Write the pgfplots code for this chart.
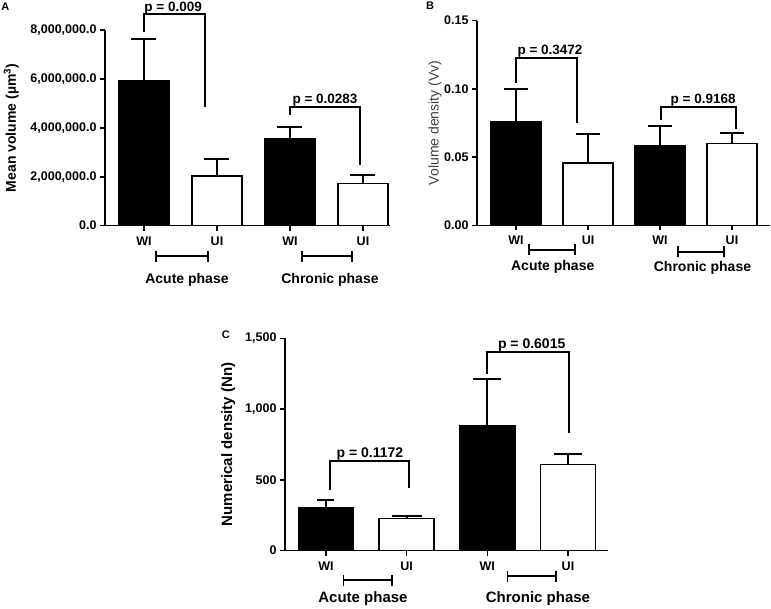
\documentclass[border=0pt]{standalone}
\usepackage{pgfplots}
\pgfplotsset{compat=1.18}
\usepackage{fontspec}
\setmainfont{Liberation Sans}
\usetikzlibrary{arrows.meta}

\pgfplotsset{
  panel/.style={
    scale only axis,
    axis x line*=bottom, axis y line*=left,
    axis line style={line width=1.5pt},
    tick style={line width=1.5pt, black},
    tick align=outside,
    major tick length=5pt,
    xtick={0,1,2,3},
    tick label style={font=\bfseries\fontsize{12.5}{14}\selectfont},
    xticklabel style={yshift=-2.5pt},
    clip=false,
    ylabel style={font=\bfseries\fontsize{14}{16}\selectfont, anchor=center},
  },
  wibar/.style={ybar, bar shift=0pt, fill=black, draw=black, line width=1.5pt,
    error bars/y dir=plus, error bars/y explicit,
    error bars/error bar style={line width=2pt, black},
    error bars/error mark options={rotate=90, line width=2pt, black, mark size=#1}},
  wibar/.default=12.5pt,
  uibar/.style={ybar, bar shift=0pt, fill=white, draw=black, line width=1.5pt,
    error bars/y dir=plus, error bars/y explicit,
    error bars/error bar style={line width=2pt, black},
    error bars/error mark options={rotate=90, line width=2pt, black, mark size=#1}},
  uibar/.default=12.5pt,
  bracket/.style={black, line width=2pt, mark=none, sharp plot, line join=miter},
}
\tikzset{
  ptext/.style={font=\bfseries\fontsize{13.5}{15}\selectfont, anchor=base, yshift=3pt, inner sep=0pt},
  phase/.style={line width=1.8pt, {Bar[width=11pt]}-{Bar[width=11pt]}},
  phlabel/.style={font=\bfseries\fontsize{14}{16}\selectfont, inner sep=0pt},
  letter/.style={font=\bfseries\fontsize{11}{12}\selectfont, inner sep=0pt},
}

\begin{document}
\begin{tikzpicture}
\useasboundingbox (0,0) rectangle (771pt,609pt);

% ---------------- Panel A ----------------
\begin{axis}[panel,
  at={(105pt,383.3pt)}, anchor=south west,
  width=285pt, height=195.7pt,
  xmin=-0.534, xmax=3.37, ymin=0, ymax=8e6,
  bar width=50pt,
  xticklabels={WI,UI,WI,UI},
  ytick={0,2e6,4e6,6e6,8e6},
  yticklabels={0.0,{2,000,000.0},{4,000,000.0},{6,000,000.0},{8,000,000.0}},
  scaled y ticks=false,
  ylabel={Mean volume (µm\textsuperscript{3})},
  ylabel style={at={(axis description cs:-0.329,0.5)}},
]
\addplot[wibar] coordinates {(0,5.92e6) +- (0,1.70e6) (2,3.54e6) +- (0,0.51e6)};
\addplot[uibar] coordinates {(1,2.03e6) +- (0,0.70e6) (3,1.73e6) +- (0,0.34e6)};
\addplot[bracket] coordinates {(0,7.93e6) (0,8.65e6) (0.836,8.65e6) (0.836,4.86e6)};
\addplot[bracket] coordinates {(2,4.53e6) (2,4.86e6) (2.96,4.86e6) (2.96,2.48e6)};
\node[ptext] at (axis cs:0.40,8.65e6) {p = 0.009};
\node[ptext] at (axis cs:2.48,4.86e6) {p = 0.0283};
\draw[phase] (axis cs:0.151,-1.24e6) -- (axis cs:0.890,-1.24e6);
\draw[phase] (axis cs:2.147,-1.24e6) -- (axis cs:2.863,-1.24e6);
\node[phlabel] at (axis cs:0.589,-2.22e6) {Acute phase};
\node[phlabel] at (axis cs:2.548,-2.22e6) {Chronic phase};
\node[letter] at (axis description cs:-0.35,1.117) {A};
\end{axis}

% ---------------- Panel B ----------------
\begin{axis}[panel,
  at={(477pt,383.7pt)}, anchor=south west,
  width=293pt, height=204.6pt,
  xmin=-0.542, xmax=3.528, ymin=0, ymax=0.15,
  bar width=50pt,
  xticklabels={WI,UI,WI,UI},
  ytick={0,0.05,0.10,0.15},
  yticklabels={0.00,0.05,0.10,0.15},
  ylabel={Volume density (Vv)},
  ylabel style={at={(axis description cs:-0.143,0.5)}, font=\mdseries\fontsize{14}{16}\selectfont, text=black!75},
]
\addplot[wibar=12pt] coordinates {(0,0.0760) +- (0,0.0237) (2,0.0581) +- (0,0.0147)};
\addplot[uibar=12pt] coordinates {(1,0.0455) +- (0,0.0212) (3,0.0601) +- (0,0.0078)};
\addplot[bracket] coordinates {(0,0.1043) (0,0.1229) (0.847,0.1229) (0.847,0.075)};
\addplot[bracket] coordinates {(2.01,0.0772) (2.01,0.087) (3.05,0.087) (3.05,0.0703)};
\node[ptext] at (axis cs:0.472,0.1229) {p = 0.3472};
\node[ptext] at (axis cs:2.60,0.087) {p = 0.9168};
\draw[phase] (axis cs:0.167,-0.0181) -- (axis cs:0.833,-0.0181);
\draw[phase] (axis cs:2.236,-0.0194) -- (axis cs:2.903,-0.0194);
\node[phlabel] at (axis cs:0.51,-0.0304) {Acute phase};
\node[phlabel] at (axis cs:2.59,-0.0313) {Chronic phase};
\node[letter] at (axis description cs:-0.160,1.072) {B};
\end{axis}

% ---------------- Panel C ----------------
\begin{axis}[panel,
  at={(285pt,58.3pt)}, anchor=south west,
  width=323pt, height=212.4pt,
  xmin=-0.508, xmax=3.496, ymin=0, ymax=1500,
  bar width=55pt,
  xticklabels={WI,\raisebox{3pt}{UI},WI,\raisebox{3pt}{UI}},
  ytick={0,500,1000,1500},
  yticklabels={0,500,{1,000},{1,500}},
  ylabel={Numerical density (Nn)},
  ylabel style={at={(axis description cs:-0.176,0.5)}, font=\bfseries\fontsize{15}{17}\selectfont},
]
\addplot[wibar=8.5pt] coordinates {(0,306) +- (0,50)};
\addplot[uibar=15pt] coordinates {(1,229) +- (0,18)};
\addplot[wibar=14pt] coordinates {(2,883) +- (0,327)};
\addplot[uibar=14pt] coordinates {(3,610) +- (0,73)};
\addplot[bracket] coordinates {(0.05,429) (0.05,636) (1.03,636) (1.03,441)};
\addplot[bracket] coordinates {(1.99,1248) (1.99,1405) (3.01,1405) (3.01,829)};
\node[ptext, font=\bfseries\fontsize{14}{16}\selectfont] at (axis cs:0.545,636) {p = 0.1172};
\node[ptext, font=\bfseries\fontsize{14}{16}\selectfont] at (axis cs:2.55,1405) {p = 0.6015};
\draw[phase] (axis cs:0.207,-207) -- (axis cs:0.827,-207);
\draw[phase] (axis cs:2.24,-179) -- (axis cs:2.86,-179);
\node[phlabel, font=\bfseries\fontsize{15}{17}\selectfont] at (axis cs:0.459,-341) {Acute phase};
\node[phlabel, font=\bfseries\fontsize{15}{17}\selectfont] at (axis cs:2.628,-341) {Chronic phase};
\node[letter] at (axis description cs:-0.183,1.0155) {C};
\end{axis}
\end{tikzpicture}
\end{document}
